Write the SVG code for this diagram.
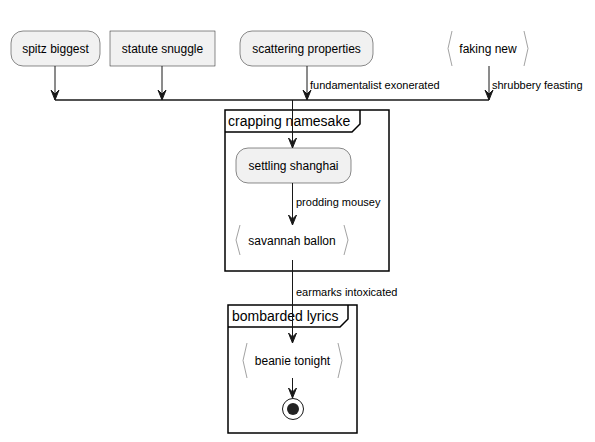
<svg xmlns="http://www.w3.org/2000/svg" width="595" height="442" viewBox="0 0 595 442">
<defs>
<style>
.node{fill:#F1F1F1;stroke:#181818;stroke-width:0.5}
.io{fill:none;stroke:#8a8a8a;stroke-width:0.8}
.t{font-family:"Liberation Sans",Arial,sans-serif;font-size:12px;fill:#000}
.lbl{font-family:"Liberation Sans",Arial,sans-serif;font-size:11px;fill:#000}
.ft{font-family:"Liberation Sans",Arial,sans-serif;font-size:14px;fill:#000}
.ln{fill:none;stroke:#181818;stroke-width:1}
.fr{fill:none;stroke:#000;stroke-width:1.5}
.ah{fill:#181818;stroke:#181818;stroke-width:1}
</style>
</defs>
<rect width="595" height="442" fill="#FFFFFF"/>

<g id="frame-crapping">
<rect class="fr" x="225" y="110" width="164" height="161"/>
<path class="fr" d="M225,132 L352,132 L360,124 L360,110"/>
<text class="ft" x="228" y="126">crapping namesake</text>
</g>
<g id="frame-bombarded">
<rect class="fr" x="228" y="305" width="129" height="128"/>
<path class="fr" d="M228,327 L340,327 L348,319 L348,305"/>
<text class="ft" x="232" y="321">bombarded lyrics</text>
</g>

<g id="n-spitz">
<rect class="node" x="11" y="31" width="89" height="35" rx="12" ry="12"/>
<text class="t" x="55.5" y="52.5" text-anchor="middle">spitz biggest</text>
</g>
<g id="n-statute">
<rect class="node" x="110" y="31" width="105" height="35"/>
<text class="t" x="162.5" y="52.5" text-anchor="middle">statute snuggle</text>
</g>
<g id="n-scattering">
<rect class="node" x="240" y="31" width="133" height="35" rx="12" ry="12"/>
<text class="t" x="306.5" y="52.5" text-anchor="middle">scattering properties</text>
</g>
<g id="n-faking">
<polygon points="452,31 448,48.5 452,66 524,66 528,48.5 524,31" fill="#FFFFFF" stroke="none"/>
<polyline class="io" points="452,31 448,48.5 452,66"/>
<polyline class="io" points="524,31 528,48.5 524,66"/>
<text class="t" x="488" y="52.5" text-anchor="middle">faking new</text>
</g>
<g id="n-settling">
<rect class="node" x="236" y="148" width="115" height="35" rx="12" ry="12"/>
<text class="t" x="293.5" y="169.5" text-anchor="middle">settling shanghai</text>
</g>
<g id="n-savannah">
<polyline class="io" points="240,225 236,240 240,255"/>
<polyline class="io" points="344,225 348,240 344,255"/>
<text class="t" x="292" y="244.5" text-anchor="middle">savannah ballon</text>
</g>
<g id="n-beanie">
<polyline class="io" points="247,343 243,360.5 247,378"/>
<polyline class="io" points="338,343 342,360.5 338,378"/>
<text class="t" x="292.5" y="365" text-anchor="middle">beanie tonight</text>
</g>
<g id="n-end">
<circle cx="293" cy="409" r="10.5" fill="#FFFFFF" stroke="#181818" stroke-width="1"/>
<circle cx="293" cy="409" r="6" fill="#222222"/>
</g>

<g id="connectors">
<path class="ln" d="M55,66 L55,100"/>
<polygon class="ah" points="51,90 55,100 59,90 55,94"/>
<path class="ln" d="M162,66 L162,100"/>
<polygon class="ah" points="158,90 162,100 166,90 162,94"/>
<path class="ln" d="M307,66 L307,100"/>
<polygon class="ah" points="303,90 307,100 311,90 307,94"/>
<text class="lbl" x="310" y="88.5">fundamentalist exonerated</text>
<path class="ln" d="M489,66 L489,100"/>
<polygon class="ah" points="485,90 489,100 493,90 489,94"/>
<text class="lbl" x="492" y="88.5">shrubbery feasting</text>
<path d="M55,100 L489,100" fill="none" stroke="#181818" stroke-width="1.5"/>
<path class="ln" d="M292.5,100 L292.5,148"/>
<polygon class="ah" points="288.5,138 292.5,148 296.5,138 292.5,142"/>
<path class="ln" d="M292.5,183 L292.5,225"/>
<polygon class="ah" points="288.5,215 292.5,225 296.5,215 292.5,219"/>
<text class="lbl" x="296" y="205.5">prodding mousey</text>
<path class="ln" d="M292.5,260 L292.5,343"/>
<polygon class="ah" points="288.5,333 292.5,343 296.5,333 292.5,337"/>
<text class="lbl" x="296" y="295.5">earmarks intoxicated</text>
<path class="ln" d="M292.5,378 L292.5,398"/>
<polygon class="ah" points="288.5,388 292.5,398 296.5,388 292.5,392"/>
</g>
</svg>
